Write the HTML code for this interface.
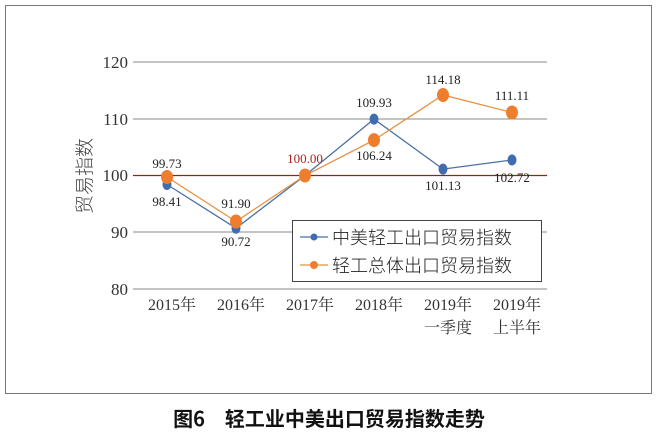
<!DOCTYPE html>
<html><head><meta charset="utf-8"><style>
body{margin:0;background:#fff;}
</style></head><body>
<svg width="658" height="440" xmlns="http://www.w3.org/2000/svg" style="font-family:'Liberation Serif','Noto Serif CJK SC',serif">
<rect x="5.5" y="5.5" width="646" height="388" fill="#fff" stroke="#777" stroke-width="1"/>
<g stroke="#888" stroke-width="1">
<line x1="133" y1="62" x2="547" y2="62"/>
<line x1="133" y1="119" x2="547" y2="119"/>
<line x1="133" y1="232" x2="547" y2="232"/>
<line x1="133" y1="289" x2="547" y2="289"/>
</g>
<line x1="133" y1="175.5" x2="547" y2="175.5" stroke="#b01515" stroke-width="1.3"/>
<g font-size="17" fill="#333" text-anchor="end">
<text x="128" y="68">120</text><text x="128" y="125">110</text><text x="128" y="181">100</text><text x="128" y="238">90</text><text x="128" y="295">80</text>
</g>
<text transform="translate(91,176) rotate(-90)" font-size="19" fill="#444" text-anchor="middle" font-family="'Noto Sans CJK SC',sans-serif" font-weight="300">贸易指数</text>
<polyline fill="none" stroke="#4a6fa5" stroke-width="1.3" points="167,184.5 236,228.2 305,175.5 374,119.1 443,169.1 512,160"/>
<polyline fill="none" stroke="#e8913f" stroke-width="1.3" points="167,177 236,221.5 305,175.5 374,140.1 443,95 512,112.5"/>
<g fill="#3f6db0">
<ellipse cx="167" cy="184.5" rx="4.5" ry="5.5"/><ellipse cx="236" cy="228.2" rx="4.5" ry="5.5"/><ellipse cx="305" cy="175.5" rx="4.5" ry="5.5"/><ellipse cx="374" cy="119.1" rx="4.5" ry="5.5"/><ellipse cx="443" cy="169.1" rx="4.5" ry="5.5"/><ellipse cx="512" cy="160" rx="4.5" ry="5.5"/>
</g>
<g fill="#ee7d2e">
<ellipse cx="167" cy="177" rx="6" ry="7"/><ellipse cx="236" cy="221.5" rx="6" ry="7"/><ellipse cx="305" cy="175.5" rx="6" ry="7"/><ellipse cx="374" cy="140.1" rx="6" ry="7"/><ellipse cx="443" cy="95" rx="6" ry="7"/><ellipse cx="512" cy="112.5" rx="6" ry="7"/>
</g>
<g font-size="13" fill="#222" text-anchor="middle">
<text x="167" y="168">99.73</text><text x="167" y="206">98.41</text>
<text x="236" y="208">91.90</text><text x="236" y="246">90.72</text>
<text x="305" y="163" fill="#b02020">100.00</text>
<text x="374" y="107">109.93</text><text x="374" y="160">106.24</text>
<text x="443" y="84">114.18</text><text x="443" y="190">101.13</text>
<text x="512" y="100">111.11</text><text x="512" y="182">102.72</text>
</g>
<rect x="292.5" y="220.5" width="249" height="61" fill="#fff" stroke="#444"/>
<line x1="300" y1="237" x2="328" y2="237" stroke="#4a6fa5" stroke-width="1.2"/><circle cx="314" cy="237" r="3.5" fill="#3f6db0"/>
<line x1="300" y1="265" x2="328" y2="265" stroke="#e8913f" stroke-width="1.2"/><circle cx="314" cy="265" r="4" fill="#ee7d2e"/>
<g font-size="18" fill="#222" font-family="'Noto Sans CJK SC',sans-serif" font-weight="300">
<text x="332" y="244">中美轻工出口贸易指数</text><text x="332" y="272">轻工总体出口贸易指数</text>
</g>
<g font-size="16" fill="#333" text-anchor="middle">
<text x="172" y="310">2015年</text><text x="241" y="310">2016年</text><text x="310" y="310">2017年</text><text x="379" y="310">2018年</text><text x="448" y="310">2019年</text><text x="517" y="310">2019年</text>
<text x="448" y="333">一季度</text><text x="517" y="333">上半年</text>
</g>
<text x="329" y="426" font-size="20" font-weight="bold" fill="#111" text-anchor="middle" font-family="'Noto Sans CJK SC',sans-serif">图6　轻工业中美出口贸易指数走势</text>
</svg>
</body></html>
